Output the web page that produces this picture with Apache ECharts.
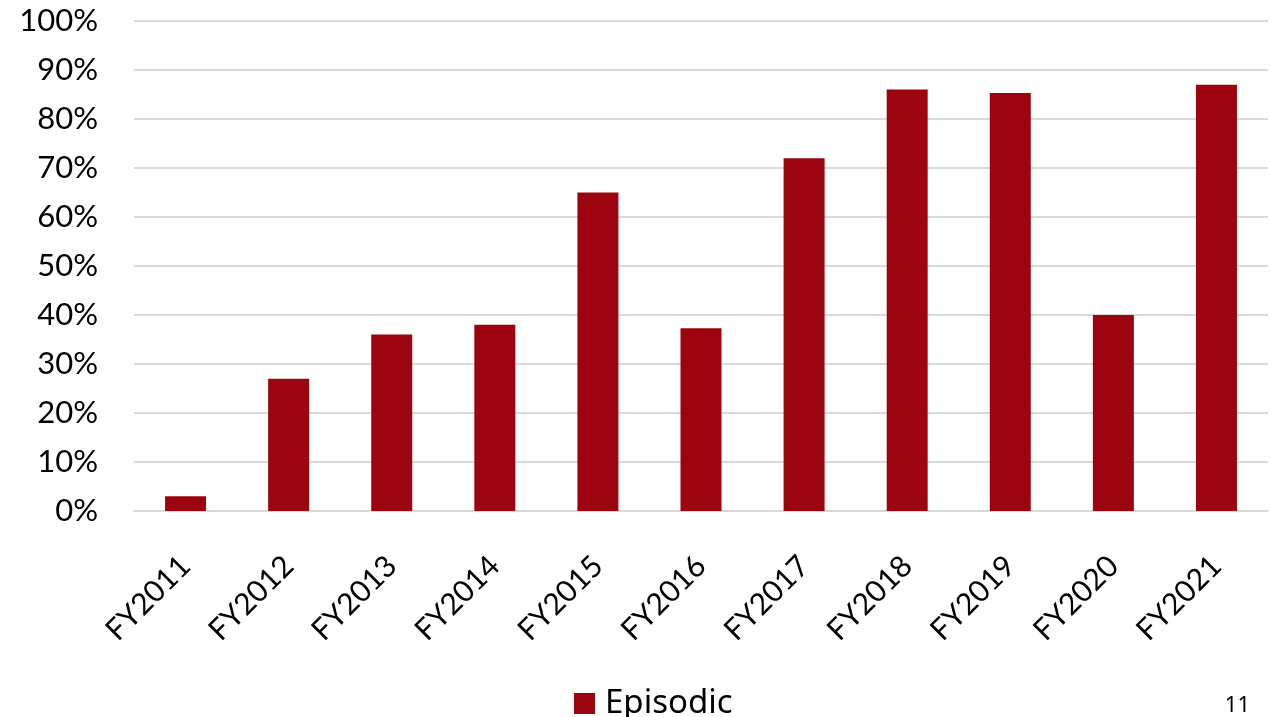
<!DOCTYPE html>
<html>
<head>
<meta charset="utf-8">
<script src="https://cdn.jsdelivr.net/npm/echarts@6/dist/echarts.min.js"></script>
<style>
  html, body { margin: 0; padding: 0; background: #ffffff; }
  #chart { width: 1270px; height: 717px; }
</style>
</head>
<body>
<div id="chart"></div>
<script>
// Share of episodic records by fiscal year
const categories = ['FY2011', 'FY2012', 'FY2013', 'FY2014', 'FY2015', 'FY2016',
                    'FY2017', 'FY2018', 'FY2019', 'FY2020', 'FY2021'];
const episodic = [3, 27, 36, 38, 65, 37.3, 72, 86, 85.3, 40, 87];
const seriesName = 'Episodic';
const pageNumber = '11';

const chart = echarts.init(document.getElementById('chart'), null, { renderer: 'canvas' });

chart.setOption({
  animation: false,
  grid: { left: 134, right: 2, top: 21, bottom: 206, containLabel: false },
  legend: {
    left: 574,
    top: 687,
    padding: 0,
    itemWidth: 21,
    itemHeight: 21,
    icon: 'rect',
    textStyle: { fontFamily: 'Noto Sans', fontSize: 33, color: '#000000', padding: [0, 0, 0, 5] },
    data: [seriesName]
  },
  xAxis: {
    type: 'category',
    data: categories,
    axisLine: { show: true, lineStyle: { color: '#d9d9d9', width: 2 } },
    axisTick: { show: false },
    axisLabel: {
      rotate: 45,
      margin: 50,
      interval: 0,
      fontFamily: 'Lato',
      fontSize: 30,
      color: '#000000'
    }
  },
  yAxis: {
    type: 'value',
    min: 0,
    max: 100,
    interval: 10,
    axisLine: { show: false },
    axisTick: { show: false },
    splitLine: { lineStyle: { color: '#d9d9d9', width: 2 } },
    axisLabel: {
      formatter: '{value}%',
      margin: 36,
      fontFamily: 'Lato',
      fontSize: 31,
      color: '#000000'
    }
  },
  series: [{
    name: seriesName,
    type: 'bar',
    data: episodic,
    barWidth: 41,
    itemStyle: { color: '#9c0510' }
  }],
  graphic: [{
    type: 'text',
    right: 20,
    top: 695,
    style: { text: pageNumber, fontFamily: 'Noto Sans', fontSize: 22, fill: '#000000' }
  }]
});
</script>
</body>
</html>
